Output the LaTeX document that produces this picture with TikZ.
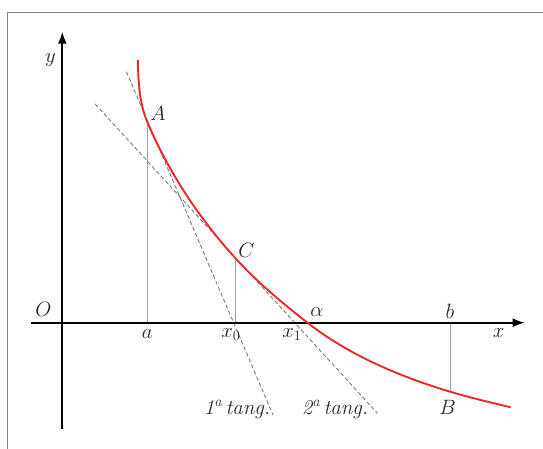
\documentclass[tikz,border=0pt]{standalone}
\usetikzlibrary{arrows.meta}
\definecolor{framecol}{HTML}{808080}
\definecolor{curvecol}{HTML}{F02828}
\definecolor{tangcol}{HTML}{7A7A7A}
\definecolor{vertcol}{HTML}{A0A0A0}
\definecolor{textcol}{HTML}{282828}
\tikzset{
  axis/.style={line width=1.8pt, -{Latex[length=12pt,width=9pt]}},
  curve/.style={curvecol, line width=1.9pt},
  tangent/.style={tangcol, line width=0.9pt, dash pattern=on 4pt off 2.5pt},
  ordinate/.style={vertcol, line width=1pt},
  lbl/.style={inner sep=0pt, text=textcol, font=\fontsize{21}{23}\selectfont}
}
\begin{document}
\begin{tikzpicture}[x=1pt,y=-1pt]
\useasboundingbox (0,0) rectangle (543,449);
\fill[white] (0,0) rectangle (543,449);
\draw[framecol, line width=1.4pt] (543,12.7) -- (7.6,12.7) -- (7.6,449);

% key points
\coordinate (xs) at (31.2,322.7);
\coordinate (xe) at (524.6,322.7);
\coordinate (ys) at (62.3,429);
\coordinate (ye) at (62.3,31.7);
\coordinate (P0) at (137.8,60);
\coordinate (A) at (147.2,121.7);
\coordinate (a) at (147.2,322.7);
\coordinate (C) at (235.5,258.3);
\coordinate (x0) at (235.5,322.7);
\coordinate (al) at (307.5,322.7);
\coordinate (B) at (450.1,391.7);
\coordinate (b) at (450.1,322.7);
\coordinate (P5) at (510.7,407.3);
\coordinate (T1s) at (126.4,71.7);
\coordinate (T1e) at (273,415);
\coordinate (T2s) at (95.2,104);
\coordinate (T2e) at (377.4,413.3);

% ordinates
\draw[ordinate] (A) -- (a);
\draw[ordinate] (C) -- (x0);
\draw[ordinate] (b) -- (B);

% tangents
\draw[tangent] (T1s) -- (T1e);
\draw[tangent] (T2s) -- (T2e);

% axes
\draw[axis] (xs) -- (xe);
\draw[axis] (ys) -- (ye);

% curve
\draw[curve] (P0) .. controls (138.4,80.8) and (139.1,102.5) .. (A)
  .. controls (168.3,171.6) and (199,218.2) .. (C)
  .. controls (257.2,282.1) and (282.1,302.9) .. (al)
  .. controls (349.1,355.2) and (399.5,376.5) .. (B)
  .. controls (470.1,397.7) and (490.4,402.4) .. (P5);

% labels
\node[lbl] (ly) at (50.5,60) {$y$};
\node[lbl] (lO) at (43.3,309.3) {$O$};
\node[lbl] (la) at (147.2,334.3) {$a$};
\node[lbl] (lx0) at (231,334.8) {$x_0$};
\node[lbl] (lx1) at (292,334.8) {$x_1$};
\node[lbl] (lal) at (316.8,311.7) {$\alpha$};
\node[lbl] (lb) at (450,311) {$b$};
\node[lbl] (lx) at (498.6,333.3) {$x$};
\node[lbl] (lA) at (158,113) {$A$};
\node[lbl] (lC) at (246.5,250) {$C$};
\node[lbl] (lB) at (447.7,407.3) {$B$};
\node[lbl] (t1) at (237,409.3) {\itshape 1\textsuperscript{a}\,tang.};
\node[lbl] (t2) at (335,409.3) {\itshape 2\textsuperscript{a}\,tang.};
\end{tikzpicture}
\end{document}
